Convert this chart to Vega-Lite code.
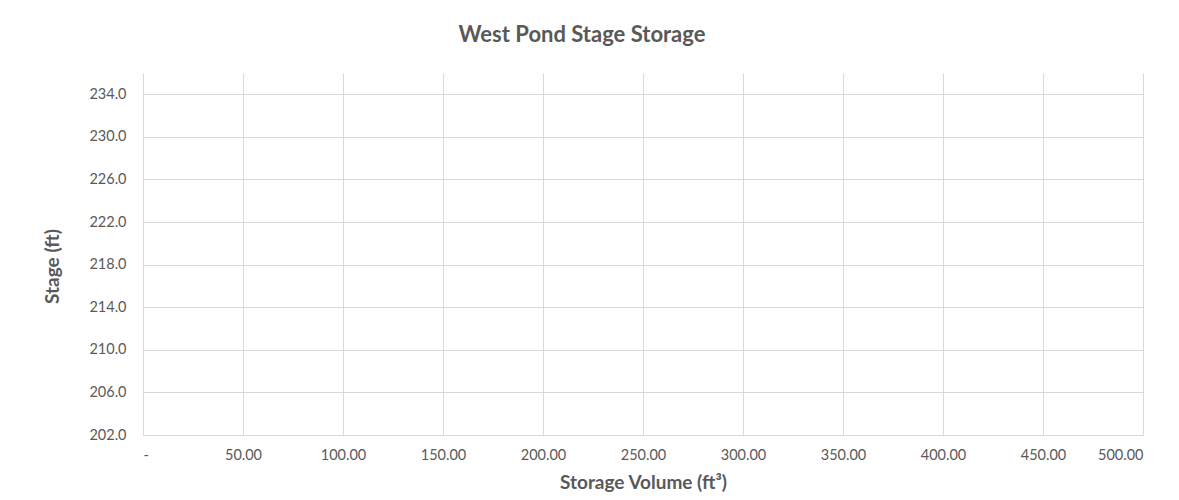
{
  "$schema": "https://vega.github.io/schema/vega-lite/v6.json",
  "autosize": {"type": "none"},
  "width": 1000,
  "height": 362,
  "padding": {"left": 143, "top": 73, "right": 36, "bottom": 65},
  "background": "white",
  "title": {
    "text": "West Pond Stage Storage",
    "font": "Lato",
    "fontSize": 22,
    "fontWeight": "bold",
    "color": "#595959",
    "anchor": "middle",
    "dx": -61,
    "offset": 26
  },
  "data": {"values": [{"volume": null, "stage": null}]},
  "mark": {"type": "line", "color": "#4472c4"},
  "encoding": {
    "x": {
      "field": "volume",
      "type": "quantitative",
      "scale": {"domain": [0, 500], "nice": false, "zero": false},
      "axis": {
        "title": "Storage Volume (ft³)",
        "values": [0, 50, 100, 150, 200, 250, 300, 350, 400, 450, 500],
        "labelExpr": "datum.value == 0 ? '-' : format(datum.value, ',.2f')",
        "grid": true,
        "gridColor": "#d9d9d9",
        "domainColor": "#d9d9d9",
        "ticks": false,
        "labelPadding": 13,
        "titlePadding": 12,
        "labelFont": "Lato",
        "labelFontSize": 14.5,
        "labelColor": "#595959",
        "titleFont": "Lato",
        "titleFontSize": 19,
        "titleFontWeight": "bold",
        "titleColor": "#595959"
      }
    },
    "y": {
      "field": "stage",
      "type": "quantitative",
      "scale": {"domain": [202, 236], "nice": false, "zero": false},
      "axis": {
        "title": "Stage (ft)",
        "values": [202, 206, 210, 214, 218, 222, 226, 230, 234],
        "format": ".1f",
        "grid": true,
        "gridColor": "#d9d9d9",
        "domain": false,
        "ticks": false,
        "labelPadding": 17,
        "titlePadding": 26,
        "titleY": 193,
        "labelFont": "Lato",
        "labelFontSize": 14.5,
        "labelColor": "#595959",
        "titleFont": "Lato",
        "titleFontSize": 19,
        "titleFontWeight": "bold",
        "titleColor": "#595959"
      }
    }
  },
  "config": {"view": {"stroke": null}}
}
